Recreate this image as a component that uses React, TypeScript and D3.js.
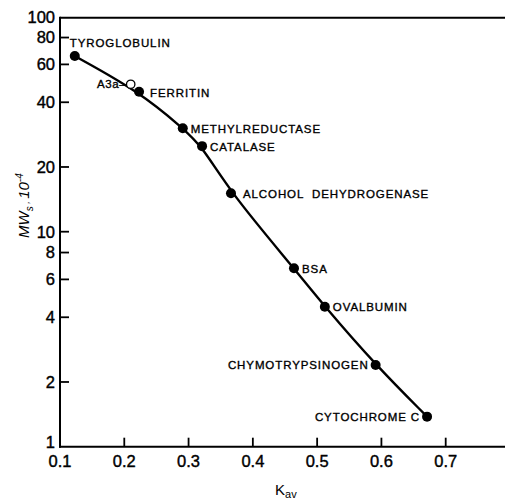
import React from "react";
import * as d3 from "d3";

const proteins = ["TYROGLOBULIN", "FERRITIN", "METHYLREDUCTASE", "CATALASE", "ALCOHOL  DEHYDROGENASE", "BSA", "OVALBUMIN", "CHYMOTRYPSINOGEN", "CYTOCHROME C"];
const kav = [0.123, 0.223, 0.291, 0.321, 0.366, 0.464, 0.512, 0.591, 0.671];
const mw = [65.6, 44.8, 30.3, 25.0, 15.1, 6.76, 4.48, 2.40, 1.38];
const labelSide = ["above", "right", "right", "right", "right", "right", "right", "left", "left"];

const openName = "A3a–";
const openKav = [0.210];
const openMw = [48.5];

const xTicks = [0.1, 0.2, 0.3, 0.4, 0.5, 0.6, 0.7];
const xTickLabels = ["0.1", "0.2", "0.3", "0.4", "0.5", "0.6", "0.7"];
const yTicks = [1, 2, 4, 6, 8, 10, 20, 40, 60, 80, 100];

export default function App() {
  const W = 505, H = 501;
  const x = d3.scaleLinear().domain([0.1, 0.7]).range([60, 445.7]);
  const y = d3.scaleLog().domain([1, 100]).range([446.7, 16.7]);
  const x0 = x(0.1), y0 = y(1), yTop = y(100);
  const pts: [number, number][] = kav.map((k, i) => [x(k), y(mw[i])]);
  const line = d3.line().curve(d3.curveBasis)(pts) || "";
  const font = "'Liberation Sans', Arial, sans-serif";
  const lblStyle = { whiteSpace: "pre" as const, stroke: "#000", strokeWidth: 0.35 };
  return (
    <svg width={W} height={H} style={{ position: "absolute", left: 0, top: 0, background: "#fff" }}>
      <rect width={W} height={H} fill="#fff" />
      {/* frame */}
      <line x1={x0} x2={W} y1={yTop + 1} y2={yTop + 1} stroke="#000" strokeWidth={2} />
      <line x1={x0} x2={x0} y1={yTop} y2={y0 + 1} stroke="#000" strokeWidth={2} />
      <line x1={x0 - 1} x2={W} y1={y0} y2={y0} stroke="#000" strokeWidth={2} />
      {/* y ticks */}
      {yTicks.map((t) => (
        <g key={"y" + t}>
          {t !== 1 && t !== 100 && <line x1={x0} x2={x0 + 9} y1={y(t)} y2={y(t)} stroke="#000" strokeWidth={1.8} />}
          <text x={x0 - 5} y={t === 1 ? y(t) - 5 : y(t)} dy="0.36em" textAnchor="end" fontFamily={font} fontSize={16.5} style={{ stroke: "#000", strokeWidth: 0.4 }}>{t}</text>
        </g>
      ))}
      {/* x ticks */}
      {xTicks.map((t, i) => (
        <g key={"x" + t}>
          {i > 0 && <line x1={x(t)} x2={x(t)} y1={y0} y2={y0 - 9} stroke="#000" strokeWidth={1.8} />}
          <text x={x(t)} y={y0 + 20} textAnchor="middle" fontFamily={font} fontSize={16.5} style={{ stroke: "#000", strokeWidth: 0.4 }}>{xTickLabels[i]}</text>
        </g>
      ))}
      {/* axis titles */}
      <text x={275} y={495} fontFamily={font} fontSize={15}>
        K<tspan fontSize={11} dy={3}>av</tspan>
      </text>
      <text transform="translate(29,238) rotate(-90)" fontFamily={font} fontSize={15} fontStyle="italic">
        MW<tspan fontSize={10} dy={4}>s</tspan><tspan dy={-4} fontSize={9}> , </tspan><tspan>10</tspan><tspan fontSize={10} dy={-6}>-4</tspan>
      </text>
      {/* curve */}
      <path d={line} fill="none" stroke="#000" strokeWidth={2.4} />
      {/* points */}
      {kav.map((k, i) => (
        <circle key={"p" + i} cx={x(k)} cy={y(mw[i])} r={5} fill="#000" />
      ))}
      {openKav.map((k, i) => (
        <circle key={"o" + i} cx={x(k)} cy={y(openMw[i])} r={4.2} fill="#fff" stroke="#000" strokeWidth={1.3} />
      ))}
      {/* labels */}
      {proteins.map((p, i) => {
        const px = x(kav[i]), py = y(mw[i]);
        let tx = px + 8, ty = py + 4.5, anchor = "start";
        if (labelSide[i] === "above") { tx = px - 5; ty = py - 9; }
        if (labelSide[i] === "left") { tx = px - 7; anchor = "end"; }
        if (i === 1) { tx = px + 11; ty = py + 5; }
        if (i === 4) { tx = px + 12; }
        return (
          <text key={"l" + i} x={tx} y={ty} textAnchor={anchor} fontFamily={font} fontSize={11.5} letterSpacing={0.9} style={lblStyle}>{p}</text>
        );
      })}
      <text x={x(openKav[0]) - 4.5} y={y(openMw[0]) + 4} textAnchor="end" fontFamily={font} fontSize={11.5} letterSpacing={0.6} style={lblStyle}>{openName}</text>
    </svg>
  );
}
